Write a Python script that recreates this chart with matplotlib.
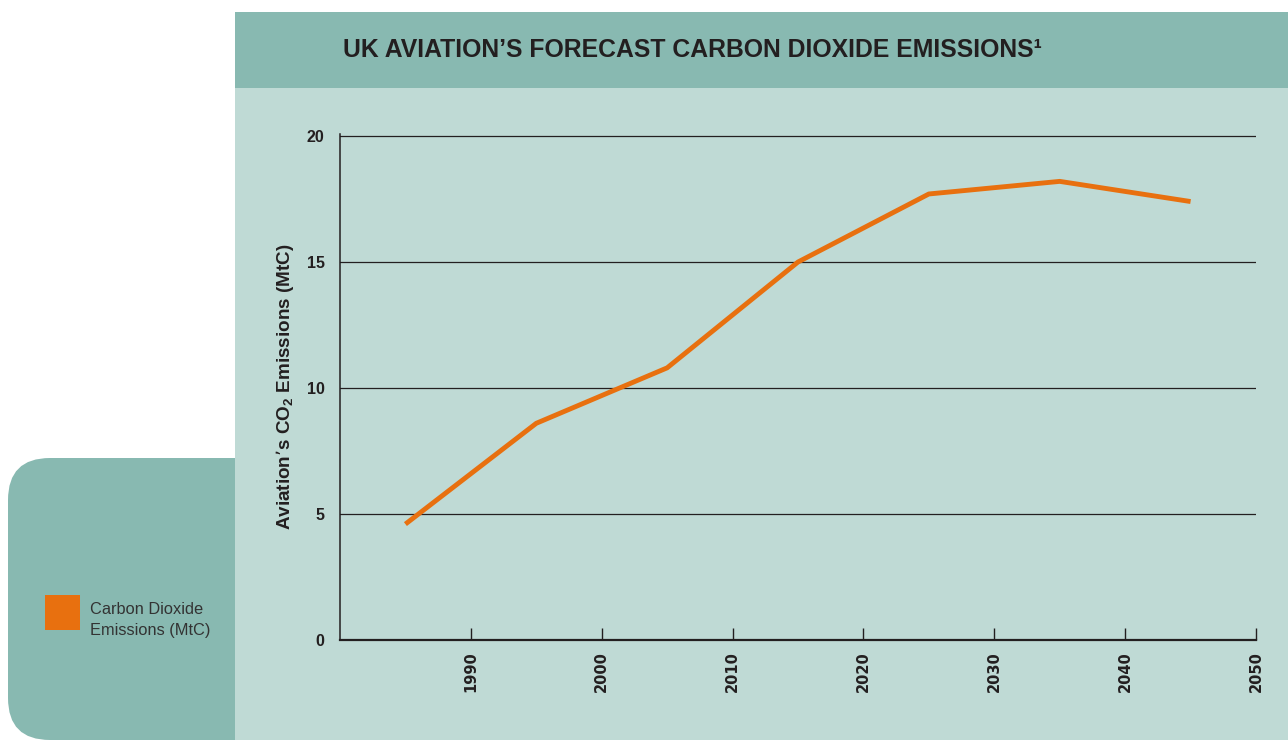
"""UK aviation forecast CO2 emissions line chart."""

import matplotlib
matplotlib.use("Agg")
import matplotlib.pyplot as plt
from matplotlib.patches import FancyBboxPatch, Rectangle

years = [1985, 1995, 2005, 2015, 2025, 2035, 2045]
emissions = [4.6, 8.6, 10.8, 15.0, 17.7, 18.2, 17.4]
x_ticks = [1990, 2000, 2010, 2020, 2030, 2040, 2050]
y_ticks = [0, 5, 10, 15, 20]

title = "UK AVIATION\u2019S FORECAST CARBON DIOXIDE EMISSIONS\u00b9"
y_label = "Aviation\u2019s CO$_2$ Emissions (MtC)"
legend_label = "Carbon Dioxide\nEmissions (MtC)"

DARK_TEAL = "#88b9b1"
LIGHT_TEAL = "#bfdad5"
ORANGE = "#e8700f"
INK = "#231f20"

plt.rcParams["font.family"] = ["Liberation Sans", "DejaVu Sans"]
plt.rcParams["mathtext.default"] = "regular"

W, H = 1288, 740
fig = plt.figure(figsize=(W / 100, H / 100), dpi=100)
fig.patch.set_facecolor("white")

# background layer in pixel coordinates
bg = fig.add_axes([0, 0, 1, 1], zorder=0)
bg.set_xlim(0, W)
bg.set_ylim(H, 0)
bg.axis("off")
bg.add_patch(FancyBboxPatch((8, 458), 300, 282, boxstyle="round,pad=0,rounding_size=42",
                            facecolor=DARK_TEAL, edgecolor="none"))
bg.add_patch(Rectangle((235, 88), W - 235, H - 88, facecolor=LIGHT_TEAL, edgecolor="none"))
bg.add_patch(Rectangle((235, 12), W - 235, 76, facecolor=DARK_TEAL, edgecolor="none"))
bg.text(343, 50, title, fontsize=17.8, fontweight="bold", color=INK, ha="left", va="center")
bg.add_patch(Rectangle((45, 595), 35, 35, facecolor=ORANGE, edgecolor="none"))
bg.text(90, 620, legend_label, fontsize=11.8, color="#333333", ha="left", va="center",
        linespacing=1.55)

# main chart
ax_top = 134
ax = fig.add_axes([340 / W, (H - 640) / H, 916 / W, (640 - ax_top) / H], zorder=1)
ax.patch.set_alpha(0)
ax.plot(years, emissions, color=ORANGE, lw=3.5, solid_capstyle="butt", zorder=3)

ax.set_xlim(1980, 2050)
ax.set_ylim(0, 20.08)
ax.set_xticks(x_ticks)
ax.set_xticklabels([str(t) for t in x_ticks], rotation=90, fontweight="bold",
                   family="DejaVu Sans", fontsize=10.5, color=INK)
ax.set_yticks(y_ticks)
ax.set_yticklabels([str(t) for t in y_ticks], fontweight="bold", fontsize=11.5, color=INK)
ax.tick_params(axis="x", direction="in", length=9, width=1, color=INK, pad=8)
ax.tick_params(axis="y", length=0, pad=11)
ax.yaxis.grid(True, color=INK, lw=0.9)
ax.set_axisbelow(True)

for side in ("top", "right"):
    ax.spines[side].set_visible(False)
ax.spines["left"].set_color(INK)
ax.spines["left"].set_linewidth(1.1)
ax.spines["bottom"].set_color(INK)
ax.spines["bottom"].set_linewidth(1.6)

ax.set_ylabel(y_label, fontweight="bold", fontsize=13.6, color=INK)
ax.yaxis.set_label_coords(-0.048, 0.5)

fig.savefig("out.png", dpi=100)
